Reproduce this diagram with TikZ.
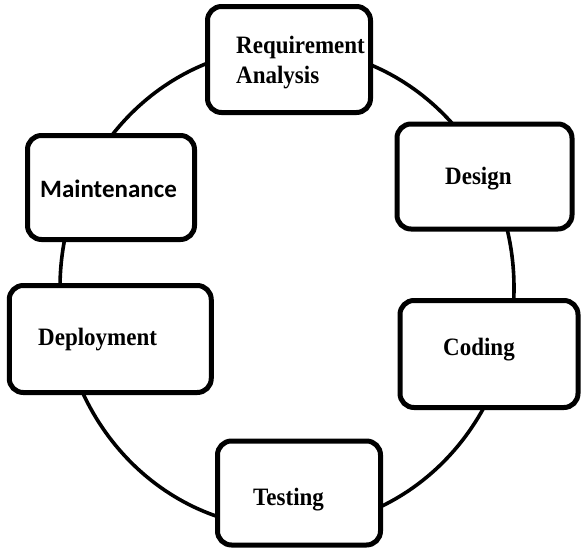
\documentclass[tikz,border=0pt]{standalone}
\usepackage{fontspec}
\usepackage{graphicx}
\setmainfont{Liberation Serif}
\newfontfamily\calfont{Carlito}
\newcommand{\narrow}[1]{\scalebox{0.92}[1]{#1}}

\begin{document}
\begin{tikzpicture}[x=1pt, y=-1pt,
  stagebox/.style={draw, line width=5pt, rounded corners=14pt, fill=white,
                   inner sep=0pt, minimum width=#1},
  serifname/.style={font=\fontsize{25}{30}\selectfont\bfseries, inner sep=0pt, anchor=base west},
  sansname/.style={font=\fontsize{25}{30}\selectfont\calfont\bfseries, inner sep=0pt, anchor=base west},
  ring/.style={line width=3.6pt}
]
  % canvas
  \useasboundingbox (0,0) rectangle (584,550);
  \fill[white] (0,0) rectangle (584,550);

  % the cycle ring, passing behind every stage
  \coordinate (hub) at (287,288);
  \draw[ring] (hub) ellipse [x radius=227pt, y radius=240pt];

  % stages of the life cycle
  \node[stagebox=163pt, minimum height=106pt] (req)    at (289,59.5)    {};
  \node[stagebox=175pt, minimum height=105pt] (design) at (484.5,176.5) {};
  \node[stagebox=178pt, minimum height=107pt] (code)   at (489,354)     {};
  \node[stagebox=163pt, minimum height=104pt] (test)   at (299,493)     {};
  \node[stagebox=202pt, minimum height=107pt] (deploy) at (110.25,339)  {};
  \node[stagebox=167pt, minimum height=104pt] (maint)  at (111,187.5)   {};

  % stage names
  \node[serifname] (reqA) at (236,53) {\narrow{Requirement}};
  \node[serifname] (reqB) at (236,83) {\narrow{Analysis}};
  \node[serifname] (designT) at (445,184) {\narrow{Design}};
  \node[serifname] (codeT)   at (443,355) {\narrow{Coding}};
  \node[serifname] (testT)   at (253,505) {\narrow{Testing}};
  \node[serifname] (deployT) at (38,345)  {\narrow{Deployment}};
  \node[sansname]  (maintT)  at (40,197)  {Maintenance};
\end{tikzpicture}
\end{document}
